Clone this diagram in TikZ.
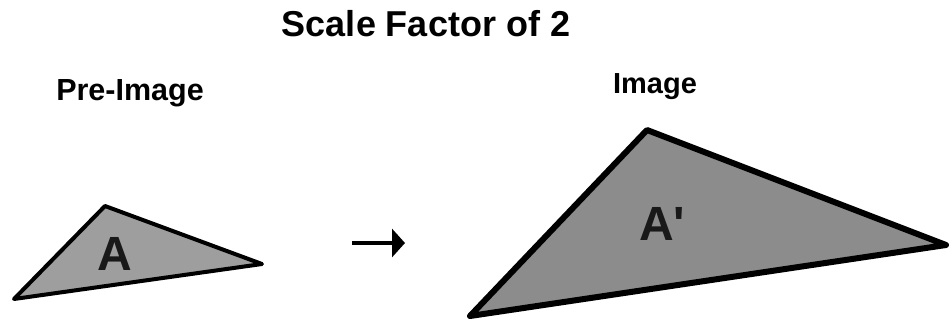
\documentclass[tikz,border=0pt]{standalone}
\usepackage{fontspec}
\setmainfont{Liberation Sans}
\newfontfamily\rawsans{Liberation Sans}[Ligatures=ResetAll]
\usetikzlibrary{arrows.meta}
\begin{document}
\begin{tikzpicture}[x=1pt,y=1pt,
  label/.style={inner sep=0pt, anchor=base, font=\fontsize{30.5}{34}\selectfont\bfseries},
  label2/.style={inner sep=0pt, anchor=base, font=\fontsize{29}{32}\selectfont\bfseries},
  titletext/.style={inner sep=0pt, anchor=base, font=\fontsize{36}{40}\selectfont\bfseries},
  letter/.style={inner sep=0pt, anchor=base west, font=\rawsans\fontsize{48}{52}\selectfont\bfseries, text=black!90},
  tri/.style={draw=black, line join=round}]
\useasboundingbox (0,0) rectangle (952,322);
% title and labels
\node[titletext] (title) at (426,285) {Scale Factor of 2};
\node[label] (pre) at (130,222) {Pre-Image};
\node[label2] (img) at (655,229) {Image};
% small triangle
\coordinate (sL) at (14,23);
\coordinate (sT) at (105,116);
\coordinate (sR) at (262,58);
\filldraw[tri, fill=black!38, line width=4pt] (sL) -- (sT) -- (sR) -- cycle;
\node[letter] (a) at (97,52) {A};
% big triangle
\coordinate (bL) at (470,6);
\coordinate (bT) at (647,192);
\coordinate (bR) at (946,77);
\filldraw[tri, fill=black!45, line width=6pt] (bL) -- (bT) -- (bR) -- cycle;
\node[letter] (a2) at (639,82) {A'};
% arrow
\coordinate (arS) at (352,79);
\coordinate (arE) at (405,79);
\draw[line width=4pt, -{Triangle[length=13pt,width=28pt]}] (arS) -- (arE);
\end{tikzpicture}
\end{document}
